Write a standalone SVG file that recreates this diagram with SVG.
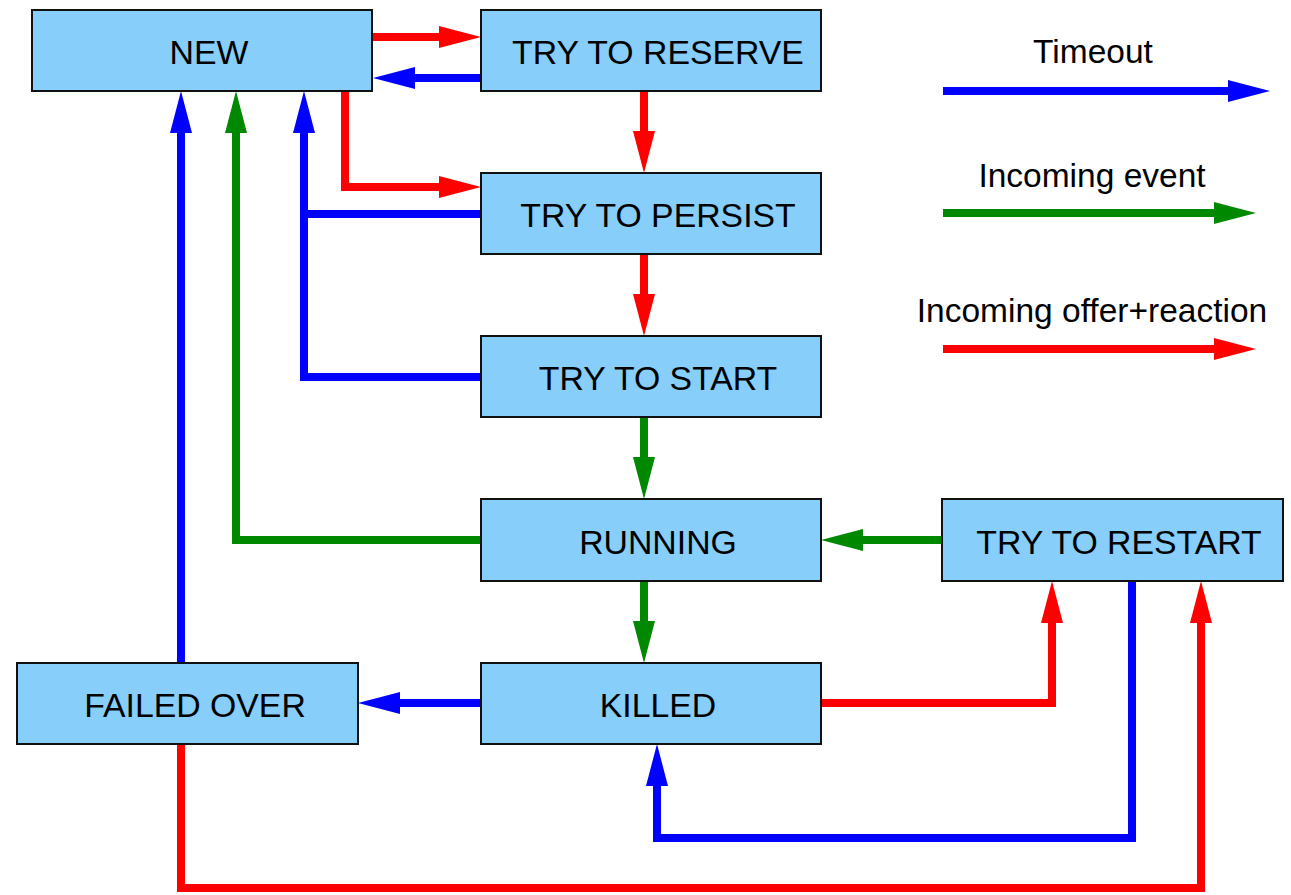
<svg xmlns="http://www.w3.org/2000/svg" width="1291" height="895" viewBox="0 0 1291 895">
<style>
.box{fill:#87cefa;stroke:#111;stroke-width:2}
.lbl{font-family:"Liberation Sans",Arial,sans-serif;font-size:33.8px;fill:#000;text-anchor:middle}
.leg{font-family:"Liberation Sans",Arial,sans-serif;font-size:33.5px;fill:#000;text-anchor:middle}
.c{fill:none;stroke-width:8;stroke-linejoin:miter;stroke-linecap:butt}
.r{stroke:#ff0000}.b{stroke:#0000ff}.g{stroke:#008800}
</style>
<defs>
<marker id="ar" markerUnits="userSpaceOnUse" markerWidth="42" markerHeight="22" refX="2" refY="11" orient="auto" viewBox="0 0 42 22"><path d="M0,0 L42,11 L0,22 Z" fill="#ff0000"/></marker>
<marker id="ab" markerUnits="userSpaceOnUse" markerWidth="42" markerHeight="22" refX="2" refY="11" orient="auto" viewBox="0 0 42 22"><path d="M0,0 L42,11 L0,22 Z" fill="#0000ff"/></marker>
<marker id="ag" markerUnits="userSpaceOnUse" markerWidth="42" markerHeight="22" refX="2" refY="11" orient="auto" viewBox="0 0 42 22"><path d="M0,0 L42,11 L0,22 Z" fill="#008800"/></marker>
</defs>
<rect width="1291" height="895" fill="#fff"/>
<g id="connectors">
<path class="c r" d="M372,37 H441" marker-end="url(#ar)"/>
<path class="c b" d="M481,78 H413" marker-end="url(#ab)"/>
<path class="c r" d="M644,91 V133" marker-end="url(#ar)"/>
<path class="c r" d="M345,91 V187 H441" marker-end="url(#ar)"/>
<path class="c b" d="M481,214 H304 V131" marker-end="url(#ab)"/>
<path class="c b" d="M481,377 H304 V214"/>
<path class="c r" d="M644,254 V296" marker-end="url(#ar)"/>
<path class="c g" d="M644,417 V459" marker-end="url(#ag)"/>
<path class="c g" d="M481,540 H236 V131" marker-end="url(#ag)"/>
<path class="c b" d="M181,663 V131" marker-end="url(#ab)"/>
<path class="c g" d="M644,581 V623" marker-end="url(#ag)"/>
<path class="c g" d="M942,540 H861" marker-end="url(#ag)"/>
<path class="c b" d="M481,703 H398" marker-end="url(#ab)"/>
<path class="c r" d="M821,703 H1052 V621" marker-end="url(#ar)"/>
<path class="c b" d="M1132,581 V838 H657 V784" marker-end="url(#ab)"/>
<path class="c r" d="M181,744 V888 H1201 V621" marker-end="url(#ar)"/>
</g>
<g id="legend">
<text class="leg" x="1093" y="63">Timeout</text>
<path class="c b" d="M943,91 H1230" marker-end="url(#ab)"/>
<text class="leg" x="1092" y="187">Incoming event</text>
<path class="c g" d="M943,213 H1216" marker-end="url(#ag)"/>
<text class="leg" x="1092" y="322">Incoming offer+reaction</text>
<path class="c r" d="M943,349 H1216" marker-end="url(#ar)"/>
</g>
<g id="new"><rect class="box" x="32" y="10" width="340" height="81"/><text class="lbl" x="209" y="64">NEW</text></g>
<g id="try-to-reserve"><rect class="box" x="481" y="10" width="340" height="81"/><text class="lbl" x="658" y="64">TRY TO RESERVE</text></g>
<g id="try-to-persist"><rect class="box" x="481" y="173" width="340" height="81"/><text class="lbl" x="658" y="227">TRY TO PERSIST</text></g>
<g id="try-to-start"><rect class="box" x="481" y="336" width="340" height="81"/><text class="lbl" x="658" y="390">TRY TO START</text></g>
<g id="running"><rect class="box" x="481" y="499" width="340" height="82"/><text class="lbl" x="658" y="554">RUNNING</text></g>
<g id="try-to-restart"><rect class="box" x="942" y="499" width="341" height="82"/><text class="lbl" x="1119" y="554">TRY TO RESTART</text></g>
<g id="killed"><rect class="box" x="481" y="663" width="340" height="81"/><text class="lbl" x="658" y="717">KILLED</text></g>
<g id="failed-over"><rect class="box" x="17" y="663" width="341" height="81"/><text class="lbl" x="195" y="717">FAILED OVER</text></g>
</svg>
